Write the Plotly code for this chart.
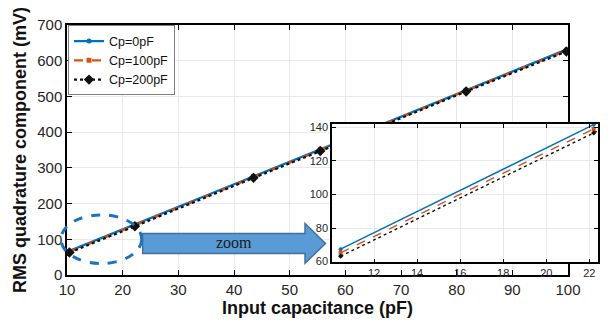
import plotly.graph_objects as go

# ---- data ----
cin = [10.45, 22.2, 43.5, 55.5, 81.7, 99.7]          # input capacitance (pF)
rms_cp0 = [67.4, 141.5, 277, 352, 519, 631]           # Cp = 0 pF
rms_cp100 = [65.2, 139.0, 274, 349, 516, 628]         # Cp = 100 pF
rms_cp200 = [63.2, 136.6, 272, 347, 514, 626]         # Cp = 200 pF
series_names = ["Cp=0pF", "Cp=100pF", "Cp=200pF"]
main_xticks = [10, 20, 30, 40, 50, 60, 70, 80, 90, 100]
main_yticks = [0, 100, 200, 300, 400, 500, 600, 700]
inset_xticks = [12, 14, 16, 18, 20, 22]
inset_yticks = [60, 80, 100, 120, 140]

# page body offset -> shrink figure and work in window pixels
OFFX, OFFY = 8, 6
W, H = 610 - OFFX, 324 - OFFY
PL, PR, PT, PB = 67, 600, 22.5, 273.3     # paper area in window pixels
ML, MR, MT, MB = PL - OFFX, W - (PR - OFFX), PT - OFFY, H - (PB - OFFY)
PW, PH = PR - PL, PB - PT


def px(x):
    return (x - PL) / PW


def py(y):
    return (PB - y) / PH


colors = ["#0072BD", "#D95319", "#111111"]
dashes = ["solid", "dash", "dot"]
symbols = ["circle", "square", "diamond"]
ys = [rms_cp0, rms_cp100, rms_cp200]

fig = go.Figure()
for i in range(3):
    fig.add_trace(go.Scatter(
        x=cin, y=ys[i], name=series_names[i], mode="lines+markers",
        line=dict(color=colors[i], width=2.3, dash=dashes[i]),
        marker=dict(symbol=symbols[i], size=5 if i < 2 else 8, color=colors[i]),
        xaxis="x", yaxis="y"))
for i in range(3):
    fig.add_trace(go.Scatter(
        x=cin, y=ys[i], name=series_names[i], mode="lines+markers", showlegend=False,
        line=dict(color=colors[i], width=1.4, dash=dashes[i]),
        marker=dict(symbol=symbols[i], size=4, color=colors[i]),
        xaxis="x2", yaxis="y2"))

axis_common = dict(showline=True, linecolor="black", linewidth=1.5, mirror="ticks",
                   ticks="inside", tickcolor="black", showgrid=True, gridcolor="#e9e9e9",
                   zeroline=False, automargin=False)
fig.update_layout(
    width=W, height=H,
    margin=dict(l=ML, r=MR, t=MT, b=MB, autoexpand=False),
    paper_bgcolor="white", plot_bgcolor="white",
    font=dict(family="Liberation Sans, Arial, sans-serif", color="#262626"),
    showlegend=True,
    legend=dict(x=px(68), y=py(23), xanchor="left", yanchor="top",
                bgcolor="white", bordercolor="#7f7f7f", borderwidth=1,
                font=dict(size=12.5, color="#111111"), itemwidth=30,
                tracegroupgap=0),
    xaxis=dict(domain=[0, px(568)], range=[10, 100], tickvals=main_xticks,
               ticklen=5, tickfont=dict(size=15, color="#262626"),
               title=dict(text="<b>Input capacitance (pF)</b>", font=dict(size=18, color="#111111"), standoff=5),
               anchor="y", **axis_common),
    yaxis=dict(domain=[0, 1], range=[0, 700], tickvals=main_yticks,
               ticklen=5, tickfont=dict(size=15, color="#262626"),
               title=dict(text="<b>RMS quadrature component (mV)</b>", font=dict(size=18, color="#111111"), standoff=6),
               anchor="x", **axis_common),
    xaxis2=dict(domain=[px(332), px(598)], range=[10.05, 22.4], tickvals=inset_xticks,
                ticklen=4, tickfont=dict(size=11, color="#262626"), anchor="y2", **axis_common),
    yaxis2=dict(domain=[py(260.7), py(121.7)], range=[59.5, 142], tickvals=inset_yticks,
                ticklen=4, tickfont=dict(size=11, color="#262626"), anchor="x2", **axis_common),
)

# dashed ellipse around the zoomed region
fig.add_shape(type="circle", xref="paper", yref="paper",
              x0=px(61), x1=px(141.7), y0=py(261.7), y1=py(213),
              line=dict(color="#1a72c2", width=3, dash="dash"), layer="above")

# block arrow
pts = [(142.7, 231.7), (305, 231.7), (305, 221.7), (325.5, 241.7),
       (305, 261.5), (305, 251.7), (142.7, 251.7)]
path = "M " + " L ".join(f"{px(a):.5f},{py(b):.5f}" for a, b in pts) + " Z"
fig.add_shape(type="path", xref="paper", yref="paper", path=path,
              fillcolor="#5B9BD5", line=dict(color="#41719C", width=1.5), layer="above")
fig.add_annotation(x=px(234), y=py(241), xref="paper", yref="paper", text="zoom",
                   xanchor="center", yanchor="middle", showarrow=False,
                   font=dict(family="Liberation Serif, DejaVu Serif, serif",
                             size=16, color="#1a1a1a"))

fig.write_html("out.html")
